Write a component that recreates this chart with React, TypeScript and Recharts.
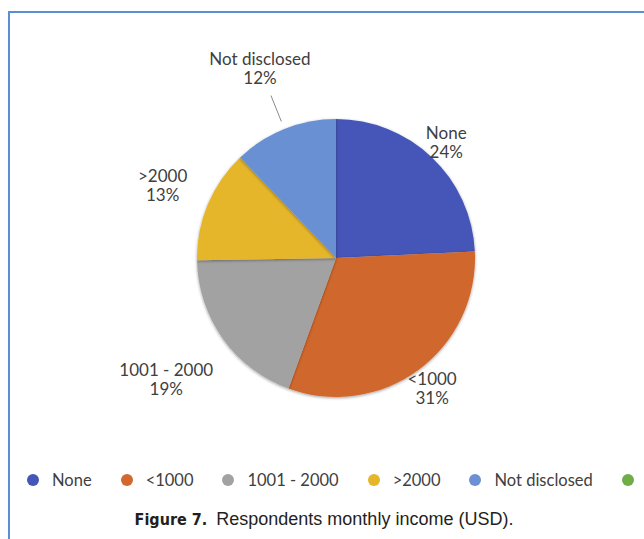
import React from "react";
import { Cell, Legend, Pie, PieChart } from "recharts";

const categories = ["None", "<1000", "1001 - 2000", ">2000", "Not disclosed", "Other"];
const shares = [24, 31, 19, 13, 12, 0];
const colors = ["#4555b8", "#d0682f", "#a2a2a2", "#e5b52a", "#6b90d4", "#70ad47"];

const pieData = categories
  .map((name, i) => ({ name, value: shares[i], color: colors[i] }))
  .filter((d) => d.value > 0);

const RADIAN = Math.PI / 180;
const labelFont = "Lato, 'Open Sans', sans-serif";
const leaderLabels = ["Not disclosed"];

const textWidth = (s: string) => s.length * 7.8;

function renderLabel(props: any) {
  const { cx, cy, midAngle, outerRadius, name, value } = props;
  const dx = Math.cos(-midAngle * RADIAN);
  const dy = Math.sin(-midAngle * RADIAN);
  const w = Math.max(textWidth(name), 30);
  const h = 36;
  const hasLeader = leaderLabels.includes(name);
  const proj = Math.abs(dx) * (w / 2) + Math.abs(dy) * (h / 2);
  const push = dx < 0 ? (hasLeader ? 30 : 24) : -3;
  const d = outerRadius + push + proj;
  const x = cx + dx * d;
  const y = cy + dy * d;
  return (
    <g>
      {hasLeader && (
        <line
          x1={cx + dx * (outerRadius + 8)}
          y1={cy + dy * (outerRadius + 8)}
          x2={cx + dx * (outerRadius + 36)}
          y2={cy + dy * (outerRadius + 36)}
          stroke="#8c8c8c"
          strokeWidth={1}
        />
      )}
      <text
        x={x}
        y={y - 9.5}
        textAnchor="middle"
        dominantBaseline="central"
        fill="#404040"
        fontSize={17}
        fontFamily={labelFont}
      >
        {name}
      </text>
      <text
        x={x}
        y={y + 9.5}
        textAnchor="middle"
        dominantBaseline="central"
        fill="#404040"
        fontSize={17}
        fontFamily={labelFont}
      >
        {value}%
      </text>
    </g>
  );
}

function renderLegend() {
  return (
    <div
      style={{
        display: "flex",
        alignItems: "center",
        paddingLeft: 27,
        whiteSpace: "nowrap",
        fontFamily: labelFont,
        fontSize: 16.5,
        color: "#404040",
      }}
    >
      {categories.map((name, i) => (
        <div
          key={name}
          style={{ display: "flex", alignItems: "center", marginRight: 29 }}
        >
          <span
            style={{
              width: 12,
              height: 12,
              borderRadius: 6,
              background: colors[i],
              marginRight: 13,
              display: "inline-block",
            }}
          />
          {shares[i] > 0 && <span>{name}</span>}
        </div>
      ))}
    </div>
  );
}

export default function App() {
  return (
    <div
      style={{
        position: "absolute",
        left: 0,
        top: 0,
        width: 644,
        height: 539,
        overflow: "hidden",
        background: "#ffffff",
      }}
    >
      <div
        style={{
          position: "absolute",
          left: 8,
          top: 11,
          width: 700,
          height: 600,
          borderTop: "2px solid #5b8fd4",
          borderLeft: "2px solid #5b8fd4",
        }}
      />
      <div style={{ position: "absolute", left: 0, top: 0 }}>
        <PieChart
          width={644}
          height={500}
          margin={{ top: 0, right: 0, bottom: 0, left: 0 }}
        >
          <defs>
            <filter id="sliceShadow" x="-20%" y="-20%" width="140%" height="140%">
              <feDropShadow dx="0" dy="1" stdDeviation="1.8" floodColor="#000" floodOpacity="0.38" />
            </filter>
          </defs>
          <Pie
            data={pieData}
            dataKey="value"
            nameKey="name"
            cx={336}
            cy={258}
            outerRadius={139}
            startAngle={90}
            endAngle={-270}
            stroke="none"
            label={renderLabel}
            labelLine={false}
            isAnimationActive={false}
          >
            {pieData.map((d) => (
              <Cell key={d.name} fill={d.color} filter="url(#sliceShadow)" />
            ))}
          </Pie>
          <Legend
            content={renderLegend}
            wrapperStyle={{ position: "absolute", left: 0, top: 470, width: 800 }}
          />
        </PieChart>
      </div>
      <div
        style={{
          position: "absolute",
          left: 0,
          top: 509,
          width: 648,
          textAlign: "center",
          color: "#231f20",
          whiteSpace: "nowrap",
        }}
      >
        <span
          style={{
            fontFamily: "'DejaVu Sans Condensed', 'DejaVu Sans', sans-serif",
            fontWeight: "bold",
            fontSize: 16,
          }}
        >
          Figure 7.
        </span>
        <span
          style={{
            fontFamily: "'Liberation Sans', Arial, sans-serif",
            fontSize: 18,
            marginLeft: 9,
          }}
        >
          Respondents monthly income (USD).
        </span>
      </div>
    </div>
  );
}
